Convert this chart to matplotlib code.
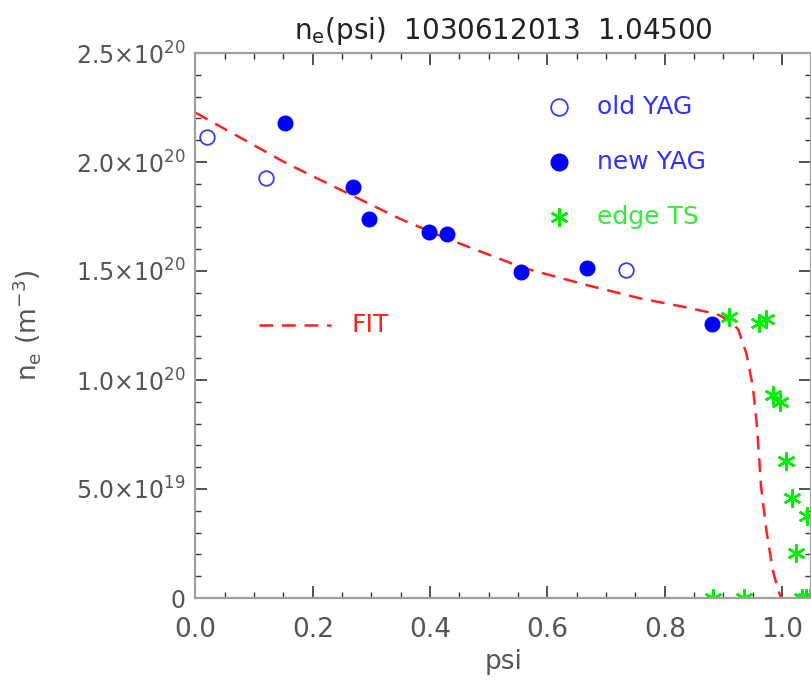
import matplotlib
matplotlib.use('Agg')
import matplotlib.pyplot as plt
from matplotlib.ticker import MultipleLocator, FixedLocator

# old YAG (open circles)
old_psi = [0.020, 0.121, 0.733]
old_ne = [2.113e20, 1.928e20, 1.505e20]

# new YAG (filled circles)
new_psi = [0.152, 0.268, 0.296, 0.398, 0.429, 0.554, 0.667, 0.880]
new_ne = [2.180e20, 1.884e20, 1.737e20, 1.680e20, 1.670e20, 1.494e20, 1.512e20, 1.257e20]

# edge TS (asterisks)
edge_psi = [0.910, 0.960, 0.973, 0.984, 0.996, 1.007, 1.017, 1.042, 1.024,
            0.882, 0.935, 1.033, 1.040, 1.048]
edge_ne = [1.290e20, 1.263e20, 1.278e20, 0.933e20, 0.901e20, 0.628e20, 0.457e20,
           0.376e20, 0.208e20, 0.0, 0.0, 0.0, 0.0, 0.0]

# fit curve
fit_psi = [0.0, 0.155, 0.348, 0.429, 0.558, 0.666, 0.757, 0.831, 0.888, 0.911,
           0.925, 0.939, 0.950, 0.957, 0.964, 0.973, 0.984, 0.993, 0.998]
fit_ne = [2.226e20, 1.994e20, 1.740e20, 1.648e20, 1.515e20, 1.436e20, 1.375e20,
          1.336e20, 1.303e20, 1.272e20, 1.232e20, 1.122e20, 0.969e20, 0.790e20,
          0.511e20, 0.312e20, 0.128e20, 0.037e20, 0.0]

ytick_vals = [0, 0.5e20, 1.0e20, 1.5e20, 2.0e20, 2.5e20]
ytick_labels = ['0', r'5.0$\times$10$^{19}$', r'1.0$\times$10$^{20}$',
                r'1.5$\times$10$^{20}$', r'2.0$\times$10$^{20}$', r'2.5$\times$10$^{20}$']
xtick_vals = [0.0, 0.2, 0.4, 0.6, 0.8, 1.0]
xtick_labels = ['0.0', '0.2', '0.4', '0.6', '0.8', '1.0']

plt.rcParams['font.family'] = ['DejaVu Sans']
plt.rcParams['mathtext.default'] = 'regular'

fig = plt.figure(figsize=(8.12, 6.87), dpi=100)
ax = fig.add_axes([195.5 / 812, 89 / 687, 616 / 812, 545 / 687])

blue = '#0000ff'
green = '#00ee00'
txt = '#555555'

ax.plot(fit_psi, fit_ne, color='#ff2020', lw=1.8, dashes=(5.5, 3.5))
ax.plot(old_psi, old_ne, 'o', ms=10.5, mfc='none', mec='#3a3aff', mew=1.3, ls='none')
ax.plot(new_psi, new_ne, 'o', ms=10.5, mfc=blue, mec=blue, ls='none')
ax.plot(edge_psi, edge_ne, marker=(6, 2, 0), ms=13, mec=green, mew=1.8, ls='none')

ax.set_xlim(0, 1.05)
ax.set_ylim(0, 2.5e20)
ax.xaxis.set_major_locator(FixedLocator(xtick_vals))
ax.set_xticklabels(xtick_labels)
ax.xaxis.set_minor_locator(MultipleLocator(0.05))
ax.yaxis.set_major_locator(FixedLocator(ytick_vals))
ax.set_yticklabels(ytick_labels)
ax.yaxis.set_minor_locator(MultipleLocator(0.1e20))

ax.tick_params(which='both', direction='in', top=True, right=True, color='#333333')
ax.tick_params(which='major', length=8.5, width=1.2)
ax.tick_params(which='minor', length=4.3, width=1.0)
ax.tick_params(axis='x', which='major', pad=14, labelsize=19, labelcolor=txt)
ax.tick_params(axis='y', which='major', pad=7, labelsize=17, labelcolor=txt)
for s in ax.spines.values():
    s.set_color('#a0a0a0')
    s.set_linewidth(1.6)

ax.set_xlabel('psi', fontsize=19, color=txt, labelpad=4)
ax.set_ylabel(r'n$_e$ (m$^{-3}$)', fontsize=19, color=txt, labelpad=24)
ax.set_title(r'n$_e$(psi)  1030612013  1.04500', fontsize=20, color='#222222', pad=10)

# in-plot legend
tr = ax.transAxes
ax.plot([0.5906], [0.9015], 'o', ms=12, mfc='none', mec='#3a3aff', mew=1.3, transform=tr)
ax.plot([0.5906], [0.8006], 'o', ms=12, mfc=blue, mec=blue, transform=tr)
ax.plot([0.5906], [0.6996], marker=(6, 2, 0), ms=13, mec=green, mew=1.8, transform=tr)
ax.text(0.651, 0.9015, 'old YAG', transform=tr, fontsize=18, color='#3030ff', va='center')
ax.text(0.651, 0.8006, 'new YAG', transform=tr, fontsize=18, color='#3030ff', va='center')
ax.text(0.651, 0.6996, 'edge TS', transform=tr, fontsize=18, color='#30ee30', va='center')
ax.plot([0.1036, 0.2199], [0.501, 0.501], color='#ff2020', lw=1.8, dashes=(5.5, 3.5), transform=tr)
ax.text(0.2536, 0.501, 'FIT', transform=tr, fontsize=18, color='#ff2020', va='center')

fig.savefig('out.png', dpi=100)
